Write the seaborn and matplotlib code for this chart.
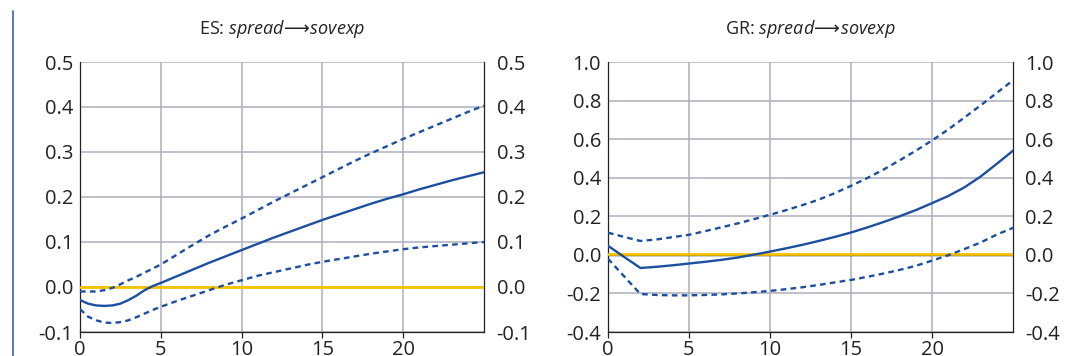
import numpy as np
import pandas as pd
import matplotlib
import matplotlib.pyplot as plt
import matplotlib.transforms as mtransforms
from matplotlib.lines import Line2D
import seaborn as sns

matplotlib.use('Agg')

# ES: spread -> sovexp (half-quarter steps at the start)
es_horizon = [0, 0.5, 1, 1.5, 2, 2.5, 3, 3.5, 4, 4.5] + list(range(5, 26))
es_irf = [-0.029, -0.037, -0.041, -0.042, -0.041, -0.037, -0.029, -0.019, -0.007, 0.002,
          0.009, 0.024, 0.039, 0.054, 0.068, 0.082, 0.096, 0.110, 0.123, 0.136,
          0.149, 0.161, 0.173, 0.185, 0.196, 0.206, 0.217, 0.227, 0.237, 0.246, 0.255]
es_upper = [-0.010, -0.010, -0.010, -0.007, -0.002, 0.006, 0.015, 0.023, 0.032, 0.041,
            0.050, 0.072, 0.094, 0.115, 0.134, 0.152, 0.171, 0.190, 0.208, 0.226,
            0.244, 0.262, 0.280, 0.297, 0.313, 0.329, 0.344, 0.359, 0.374, 0.389, 0.403]
es_lower = [-0.049, -0.066, -0.074, -0.079, -0.080, -0.078, -0.074, -0.067, -0.059, -0.051,
            -0.044, -0.031, -0.019, -0.007, 0.005, 0.015, 0.025, 0.033, 0.041, 0.049,
            0.056, 0.062, 0.068, 0.074, 0.079, 0.084, 0.088, 0.091, 0.094, 0.097, 0.100]

# GR: spread -> sovexp
gr_horizon = list(range(26))
gr_irf = [0.047, -0.011, -0.068, -0.062, -0.054, -0.045, -0.036, -0.026, -0.014, 0.001,
          0.017, 0.034, 0.052, 0.072, 0.093, 0.116, 0.142, 0.170, 0.200, 0.232,
          0.268, 0.305, 0.350, 0.406, 0.472, 0.540]
gr_upper = [0.115, 0.093, 0.072, 0.080, 0.092, 0.104, 0.123, 0.143, 0.163, 0.185,
            0.208, 0.232, 0.258, 0.286, 0.320, 0.358, 0.398, 0.442, 0.490, 0.540,
            0.593, 0.650, 0.712, 0.775, 0.840, 0.905]
gr_lower = [-0.020, -0.112, -0.203, -0.208, -0.210, -0.210, -0.208, -0.205, -0.200, -0.194,
            -0.187, -0.178, -0.168, -0.156, -0.143, -0.130, -0.114, -0.097, -0.078, -0.057,
            -0.030, -0.002, 0.030, 0.064, 0.105, 0.140]

es_yticks = [-0.1, 0.0, 0.1, 0.2, 0.3, 0.4, 0.5]
gr_yticks = [-0.4, -0.2, 0.0, 0.2, 0.4, 0.6, 0.8, 1.0]
x_ticks = [0, 5, 10, 15, 20]

panels = [
    ("ES", es_horizon, es_irf, es_upper, es_lower, es_yticks, False),
    ("GR", gr_horizon, gr_irf, gr_upper, gr_lower, gr_yticks, True),
]

BLUE = '#1d4f9f'
YELLOW = '#f6c200'
GRID = '#adafbf'
TXT = '#222222'
FS = 14.5

sns.set_theme(style='white')
plt.rcParams['font.family'] = ['Open Sans', 'DejaVu Sans']
plt.rcParams['axes.unicode_minus'] = False
plt.rcParams['mathtext.fontset'] = 'custom'
plt.rcParams['mathtext.rm'] = 'DejaVu Sans'
plt.rcParams['mathtext.it'] = 'Open Sans:italic'

fig = plt.figure(figsize=(10.66, 3.56), dpi=100)
W, H = 1066, 356
positions = [(80, 62, 404, 270), (608, 62, 405, 270)]

for (name, hor, irf, upper, lower, yticks, zero_black), (px, py, pw, ph) in zip(panels, positions):
    ax = fig.add_axes([px / W, 1 - (py + ph) / H, pw / W, ph / H])
    df = pd.DataFrame({'h': hor, 'irf': irf, 'upper': upper, 'lower': lower})

    ax.set_xlim(0, 25)
    ax.set_ylim(yticks[0], yticks[-1])
    ax.set_xticks(x_ticks)
    ax.set_yticks(yticks)
    ax.set_yticklabels([f"{v:.1f}" for v in yticks])
    ax.grid(True, color=GRID, linewidth=1.1)
    ax.set_axisbelow(True)

    # zero line (GR has a thin black axis line under the yellow one)
    if zero_black:
        ax.axhline(0, color='black', linewidth=1.0, zorder=2)
        shift = mtransforms.offset_copy(ax.transData, fig=fig, x=0, y=1.2, units='dots')
        ax.plot([0, 25], [0, 0], color=YELLOW, linewidth=2.0, transform=shift, zorder=3)
    else:
        ax.axhline(0, color=YELLOW, linewidth=2.0, zorder=3)

    sns.lineplot(data=df, x='h', y='upper', ax=ax, color=BLUE, linewidth=1.7,
                 linestyle=(0, (2.4, 1.8)), errorbar=None, zorder=4)
    sns.lineplot(data=df, x='h', y='lower', ax=ax, color=BLUE, linewidth=1.7,
                 linestyle=(0, (2.4, 1.8)), errorbar=None, zorder=4)
    sns.lineplot(data=df, x='h', y='irf', ax=ax, color=BLUE, linewidth=1.7,
                 errorbar=None, zorder=5)

    ax.set_xlabel('')
    ax.set_ylabel('')
    for side in ['left', 'right', 'bottom']:
        ax.spines[side].set_visible(True)
        ax.spines[side].set_color(TXT)
        ax.spines[side].set_linewidth(0.9)
    ax.spines['top'].set_visible(False)

    ax.tick_params(axis='x', bottom=True, length=4, width=0.9, color=TXT,
                   labelsize=FS, labelcolor=TXT, pad=2)
    ax.tick_params(axis='y', left=False, right=False, length=0, labelsize=FS,
                   labelcolor=TXT, pad=5)

    # mirrored labels on the right
    ax2 = ax.twinx()
    ax2.set_ylim(ax.get_ylim())
    ax2.set_yticks(yticks)
    ax2.set_yticklabels([f"{v:.1f}" for v in yticks])
    ax2.tick_params(axis='y', right=False, length=0, labelsize=FS, labelcolor=TXT, pad=9)
    ax2.grid(False)
    for s in ax2.spines.values():
        s.set_visible(False)

    ax.set_title(name + r": $\mathit{spread}\!\longrightarrow\!\mathit{sovexp}$",
                 fontsize=13, color=TXT, pad=20)

fig.add_artist(Line2D([13 / W, 13 / W], [0, 1 - 11 / H], transform=fig.transFigure,
                      color='#4a6db5', linewidth=1.3))

fig.savefig('out.png', dpi=100)
